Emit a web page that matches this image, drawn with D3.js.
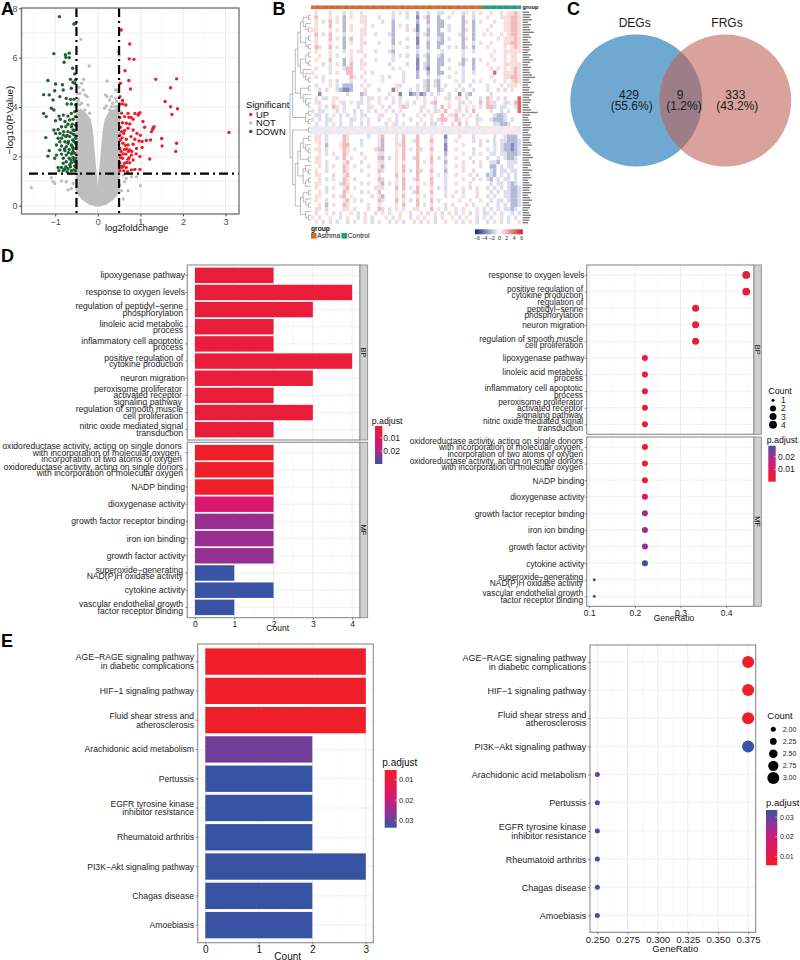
<!DOCTYPE html>
<html lang="en">
<head>
<meta charset="UTF-8">
<title>Asthma DEGs and FRGs</title>
<style>
body { margin: 0; background: #fff; }
svg text { font-family: "Liberation Sans", Arial, sans-serif; }
</style>
</head>
<body>
<script src="https://d3js.org/d3.v7.min.js"></script>
<script>
// ---- panel A: volcano
var downPoints = [[-0.9,7.66],[-0.56,7.36],[-0.52,7.38],[-1.03,6.16],[-0.76,6.12],[-0.67,6.18],[-0.75,6.01],[-0.67,6.0],[-0.79,5.81],[-0.59,5.57],[-0.54,5.34],[-0.64,5.12],[-0.52,5.09],[-0.58,5.0],[-0.54,4.96],[-1.17,5.07],[-0.99,4.93],[-0.83,4.9],[-0.81,4.69],[-0.62,4.76],
[-1.27,4.5],[-1.14,4.49],[-1.01,4.66],[-0.89,4.42],[-1.05,4.28],[-0.74,4.35],[-0.64,4.31],[-0.56,4.31],[-0.72,4.12],[-0.62,4.12],[-0.52,4.08],[-1.09,3.95],[-1.03,3.88],[-1.27,3.74],[-1.21,3.61],[-0.91,3.63],[-0.81,3.67],[-0.7,3.63],[-0.62,3.74],[-0.54,3.81],[-0.52,3.61],[-0.99,3.44],[-0.88,3.5],[-0.77,3.41],[-0.66,3.47],[-0.58,3.5],
[-1.03,3.07],[-0.93,3.09],[-0.85,3.2],[-0.75,3.2],[-0.62,3.2],[-0.52,3.27],[-0.99,2.93],[-0.89,2.93],[-0.81,2.86],[-0.7,3.0],[-0.58,3.07],[-1.22,2.76],[-0.93,2.73],[-0.85,2.73],[-0.75,2.8],[-0.66,2.8],[-0.54,2.86],[-0.89,2.59],[-0.77,2.59],[-0.7,2.53],[-0.59,2.66],[-0.52,2.73],[-0.97,2.46],[-0.85,2.42],[-0.74,2.39],[-0.62,2.46],[-0.52,2.53],
[-1.14,2.23],[-0.89,2.26],[-0.77,2.23],[-0.67,2.28],[-0.58,2.32],[-0.52,2.32],[-1.17,2.01],[-0.97,2.05],[-0.85,2.09],[-0.74,2.05],[-0.62,2.09],[-0.54,2.12],[-1.01,1.92],[-0.81,1.92],[-0.67,1.92],[-0.58,1.96],[-0.52,1.92],[-0.81,1.72],[-0.74,1.78],[-0.62,1.74],[-0.54,1.78],[-0.93,1.55],[-0.85,1.55],[-0.75,1.58],[-0.64,1.58],[-0.54,1.61],[-0.91,1.42],[-0.81,1.42],[-0.72,1.38],[-0.62,1.42],[-0.56,1.45],[-0.52,1.42],
[-0.53,1.6],[-0.58,2.2],[-0.6,2.4],[-0.56,2.6],[-0.6,2.15],[-0.63,1.85],[-0.56,1.85],[-0.69,2.15],[-0.69,2.6],[-0.57,2.9],[-0.63,2.95],[-0.72,2.85],[-0.78,2.3],[-0.66,1.66],[-0.7,1.5],[-0.78,1.48],[-0.6,3.3],[-0.55,3.05],[-0.7,3.3],[-0.8,3.0]];
var upPoints = [[0.55,7.12],[0.75,6.55],[0.74,5.95],[0.85,5.93],[0.64,5.47],[0.73,5.07],[1.36,5.12],[1.85,5.14],[1.71,4.78],[0.77,4.73],[0.53,4.96],[1.58,4.22],[1.71,4.01],[1.87,3.93],[1.74,3.7],[3.08,2.97],
[0.52,4.42],[0.58,4.26],[0.66,4.08],[0.52,4.12],[0.59,4.12],[0.71,3.74],[0.87,3.74],[0.99,3.77],[0.95,3.67],[0.52,3.57],[0.63,3.61],[0.73,3.58],[0.83,3.5],[1.06,3.41],[1.1,3.18],[0.67,3.34],[0.58,3.36],[0.75,3.31],[0.53,3.18],[0.71,3.14],[0.83,3.07],[1.3,3.16],[1.26,3.0],[0.92,2.93],[0.61,2.93],[0.52,2.86],[0.67,2.69],[0.87,2.69],[0.97,2.62],[1.14,2.64],[1.24,2.66],[1.5,2.72],[1.51,2.42],[1.85,2.53],[1.83,2.2],[1.04,2.36],[1.22,1.89],
[0.53,2.66],[0.59,2.53],[0.71,2.46],[0.83,2.49],[0.91,2.32],[0.52,2.32],[0.63,2.28],[0.75,2.26],[0.53,2.05],[0.66,2.09],[0.79,2.05],[0.99,1.99],[0.58,1.92],[0.71,1.88],[0.83,1.85],[0.52,1.74],[0.63,1.72],[0.75,1.74],[0.56,1.55],[0.67,1.55],[0.79,1.45],[0.87,1.47],[0.99,1.47],[0.52,1.42],[0.61,1.42],[0.7,1.38],
[0.55,2.2],[0.6,2.1],[0.55,1.6],[0.68,1.75],[0.57,2.75],[0.65,2.45],[0.72,2.2],[0.56,3.0],[0.63,3.05],[0.78,2.8],[0.68,2.3],[0.8,2.2],[0.9,2.1],[0.6,1.6],[0.74,1.95],[0.53,1.95],[1.04,2.6],[1.0,2.85],[1.29,3.1],[1.32,3.2],[0.56,3.75],[0.95,3.72],[0.78,3.58]];
var notPoints = [[-0.4,6.74],[-0.2,5.66],[0.48,6.24],[0.5,6.1],[-0.33,5.12],[-0.38,4.96],[-0.44,4.8],[-0.48,4.55],[-0.3,4.49],[-0.25,4.42],[-0.48,4.22],[0.22,5.05],[0.42,4.69],[0.48,4.62],[0.18,4.49],[0.32,4.42],[0.2,4.04],[0.32,4.01],[0.44,4.22],[0.45,4.01],
[-0.42,4.55],[-0.34,4.69],[-0.38,4.15],[-0.23,4.08],[-0.3,3.88],[-0.19,3.75],[0.16,3.95],[0.28,3.88],[0.4,4.01],[0.28,4.28],[0.22,4.42],[0.45,4.69],[0.42,4.35],[-0.42,4.1],[-0.45,4.3],[0.35,4.15],[0.47,3.95],
[-1.56,0.73],[-1.09,1.13],[-1.05,0.97],[-1.01,0.9],[-0.85,1.0],[-0.7,0.64],[-0.62,0.7],[-0.74,0.97],[-0.58,0.9],[0.6,0.27],[0.56,0.61],[0.71,0.61],[1.0,0.81],[0.91,1.17],[0.63,0.97],[0.79,1.17],[0.67,1.1],[0.6,1.24],[0.48,0.64],[0.52,0.84]];
// outline of the solid grey mass where the NOT points overplot
var notMassOutline = [[-0.5,3.85],[-0.4,3.9],[-0.3,3.75],[-0.18,3.5],[-0.13,3.0],[-0.08,2.0],[-0.03,1.05],[0,0.42],[0.03,1.05],[0.08,2.0],[0.13,3.0],[0.18,3.5],[0.28,3.8],[0.4,3.9],[0.5,3.85],[0.5,0.6],[0.45,0.45],[0.35,0.25],[0.2,0.08],[0.05,0],[-0.05,0],[-0.2,0.08],[-0.35,0.25],[-0.45,0.45],[-0.5,0.6]];
var volcanoCutX = [-0.5, 0.5];
var volcanoCutY = 1.3;
var volcanoLegend = ["UP", "NOT", "DOWN"];

// ---- panel B: heatmap rows read as coarse levels, one letter per cell
var heatLevels = {D:-3.2, B:-1.9, b:-0.9, l:-0.6, ".":0, p:0.6, r:0.9, R:1.8, S:4};
var heatRows = [
".r...r...b .r..r..... ...b.r.b.. B..b..bb.. r..br.b.r. .r..r.rrRr",
".R...r.r.B .r..rr...b ...b...b.. D.rB..B..b ...B..b... r...rrrRRr",
".r.b.R.r.B ....rr.... b..B...... B..B..BB.. ...Br.B.r. ..r..rrRRr",
".r...R...B .r...r.r.. ...B.r.b.. D..b..BB.b ...B..B... .r...rrRRr",
"rr...r.r.B .r..rr.... ...B...b.r D..B..B..b ...Br.B... r....rrRRr",
".R.b.R...b ....rr..b. ..bB...... B.rB..BB.. ..rB..B..r .r..r.rRRr",
".r...R.r.B .R..r..... ...B...b.. D..b..bB.b ...Br.B... ...r.rrrRr",
".r...r...B .r..rr...r ...B.r.... D..B..BB.. ...B..b.r. .r...rrRRr",
".Rb..R.r.B ....r..... ...b...b.. B..B..B..b .r.Br.B... r....r.rRr",
".r...r...b .r.rr...b. ..bB...... b..b...b.. ...b..b... ..r..rrrrr",
"..r..r.b.. .r...r.... ...b.r.b.. B.rB..bB.. ...b...... .r...r.rr.",
".r...R...B .r..r...r. ...b...... D..B..BB.b ...Br.B.r. ..r..r.rr.",
"...b.r.r.B .R..rr.... ..b....b.. D.bB..BB.. ..bB..B... r....rrrrr",
".r...b...b RR..r..... ...b.r.... D.bD..B..b ...b..B... .r.r.r.rRr",
"r....r.r.. RR...r.b.. ......b... B..B..BB.. .r.b..b... ..S..rrrRr",
".r.b...... .Rr.r..... r.b...b... B..b..b..b ...b...... .r...rrRRr",
"...r.r.b.. .r...r.... r.....b... ..bB.bB... .r.b..b.r. ..r..r.rRr",
".r...r.b.B BB..r.r... ....rb.... b.bB.bB.b ...b..b... .r...r.rrr",
"..b.b..bBD DB...r...b ...Dr...b. b.rB..Bb.. .r.b..b... b..b.b.r..",
"..D....... b...Bb.... ..b..D..DB bDB.b.b..b ..D.bB.... .b........",
".r.bb.rr.. ....b.br.r .b.r.b.... r.r..r..rb .rr.b...b. Rr.r.b...S",
".rb...r.rb .r.bb.r..r ...b.r.r.b ..r.bR...r ..rb.r..R. Rrb..bb.RS",
"..r.b.Rr.b ...b..br.. r.b..rRb.. .rr..b.R.r ..b.r.r.b. RRb.bb..rS",
"b.bb...b.r ..b.b.r.b. .r.b.r.... .b.r.br.R. .rr.b.R... .r..b.b..S",
".bb.b.r.b. b.r.bb...r b...b.b... r.b.r..R.r rR.b.r.b.. ..bBBb....",
"b.b.bb..r. .bb.r.b..b ..r.b...b. .r..r.bRR. .Rr.r..br. .bBBBb.b..",
".b..b.r.b. .b..b.r... .b.rb.r... b.r.bb.r.. r.R.b..r.. ..bbBBb...",
"lllpllplll pllplllpll llplllpllp lllpllplll pllplllpll pppplpppll",
"llplllplll lplllpllpl llpllplllp llplllplll lplllpllpl ppplppplpl",
".rr.b....R r.....b..r R...r.R... R...r...D. ..r...b... ..b..bBBB.",
".rr.b....R r...b....r B...r.R..b R...R...B. .r....b.r. b.b.bbBBBb",
"..r.B...rR R...b....r B...rrR... R...r...D. ...r....b. ..b.bBBDBb",
".rr.b....R r.r.....bR B...r.R.r. Rb..R...D. .r....b... b.b.bBBDBb",
"..r.b.r..R r...b....r b...r.R... R...r...B. ...r..b.r. .bb.bbBBBb",
".rr....b.R .r...r...R B.b.r.R..b R...R.b.b. .r...r.... b..b.bBBb.",
".rr.b....r R...b....r b...r.r... R.r.R...B. ...r..b.r. .bbB..bbb.",
"..r.b.r..R r.r...b..r B...r.R... R...r...b. .r.r....b. .BB.b.bb..",
".r..b....R r...b....R b...r.R.b. Rb..R...B. ...r..b... .bB.bb.bb.",
".rr...b..r R.....r..r ....R.r... R...r.r.b. .r...r.b.. BbB.b.b.b.",
"..r.b.r..R r.b......R b...r.R..r R...R...b. ...r..b.r. bB.b.bb.b.",
".rr.....bR r...r.b..r B.b.r.R... r.r.R...b. .r...r.... .b.bb.bBb.",
".r..b.r..r R.r.....br b...R.R.r. R...r.b.b. ...r.b.r.. b.b.b.bBBb",
"..r.b....R r...b.r..R ....r.r..b R...R...r. .r.b...r.. .b.b.bbBBb",
".rr...b.rR .r.....b.r B...r.R... r.r.r...b. r..r...b.. b.b..bbBBb",
".r..b....r R.r.b....R b...R.r.b. R...R.b... ..r..r..r. .b.bb.bBBb",
"..r.B.r..R r.....r..r ....r.R... R.b.r...b. r...r.b... b..b.b.BBb",
".rr.b....r r.b...b..R b.r.r.r..r r...R.r.b. .r.r...r.b .b.b.bbBb.",
".b..r.b.r. .r.b.r..b. r.b..r..b. .r.b.r.b.r .b.r.b.r.b b.r.b..b.b",
"r.b..r..b. r..b.r.b.. .r.b.r..b. r.r..b.r.. r.b.r..b.r .b..r.b.b.",
".r.b.r.b.. b.r..r.b.r ..b.r.b..r .b.r.b..r. .r.b.r.b.. b.r.b.b..r"
];
var heatGroups = ["Asthma", "Control"];
var heatGroupColumns = [49, 11];
var heatScaleTicks = [-6, -4, -2, 0, 2, 4, 6];
// row dendrogram, 1 is a leaf
var t1 = [[[1,1],[1,[1,1]]],[[1,1],[1,1]]], t2 = [[[1,1],[1,1]],[1,[1,[1,1]]]], t3 = [[1,1],[1,[1,[1,1]]]];
var tM = [[1,1],[1,1]], tB = [1,1];
var u1 = [[[1,1],[1,[1,1]]],[1,1]], u2 = [[1,[1,1]],[[1,1],1]], u3 = [[[1,1],[1,[1,1]]],[1,[1,1]]];
var rowTree = [[[[t1,t2],t3],tM],[tB,[[u1,u2],u3]]];
// gene names on the right are too small to read in the reference, only their lengths are kept
var geneLabelLengths = [7,9,8,10,6,9,7,8,12,7,9,6,8,10,7,8,6,9,7,11,8,6,9,7,8,10,13,7,9,6,8,7,12,10,7,9,8,6,7,9,16,8,6,7,9,8,10,7,6,9,8,7,9,10,6,8,7,9,11,7,8,9,6,10,7,8,9,6,7,10,8,7,9,6,8,10,7,9,8,6,7,9,8,7,6];

// ---- panel C: venn
var vennSets = ["DEGs", "FRGs"];
var vennOnly = [429, 333];
var vennOnlyPct = ["(55.6%)", "(43.2%)"];
var vennShared = 9;
var vennSharedPct = "(1.2%)";

// ---- panel D left: bars
var barBpTerms = ["lipoxygenase pathway","response to oxygen levels","regulation of peptidyl\u2212serine\nphosphorylation","linoleic acid metabolic\nprocess","inflammatory cell apoptotic\nprocess","positive regulation of\ncytokine production","neuron migration","peroxisome proliferator\nactivated receptor\nsignaling pathway","regulation of smooth muscle\ncell proliferation","nitric oxide mediated signal\ntransduction"];
var barBpCount = [2,4,3,2,2,4,3,2,3,2];
var barBpPadj = [0.0045,0.0045,0.0045,0.0045,0.0045,0.0045,0.0045,0.0045,0.0045,0.0045];
var barMfTerms = ["oxidoreductase activity, acting on single donors\nwith incorporation of molecular oxygen,\nincorporation of two atoms of oxygen","oxidoreductase activity, acting on single donors\nwith incorporation of molecular oxygen","NADP binding","dioxygenase activity","growth factor receptor binding","iron ion binding","growth factor activity","superoxide\u2212generating\nNAD(P)H oxidase activity","cytokine activity","vascular endothelial growth\nfactor receptor binding"];
var barMfCount = [2,2,2,2,2,2,2,1,2,1];
var barMfPadj = [0.0015,0.0015,0.002,0.014,0.021,0.021,0.0215,0.0297,0.0297,0.0297];

// ---- panel D right: dots
var dotBpTerms = ["response to oxygen levels","positive regulation of\ncytokine production","regulation of\npeptidyl\u2212serine\nphosphorylation","neuron migration","regulation of smooth muscle\ncell proliferation","lipoxygenase pathway","linoleic acid metabolic\nprocess","inflammatory cell apoptotic\nprocess","peroxisome proliferator\nactivated receptor\nsignaling pathway","nitric oxide mediated signal\ntransduction"];
var dotBpRatio = [0.444,0.444,0.333,0.333,0.333,0.222,0.222,0.222,0.222,0.222];
var dotBpCount = [4,4,3,3,3,2,2,2,2,2];
var dotBpPadj = [0.0045,0.0045,0.0045,0.0045,0.0045,0.0045,0.0045,0.0045,0.0045,0.0045];
var dotMfTerms = ["oxidoreductase activity, acting on single donors\nwith incorporation of molecular oxygen,\nincorporation of two atoms of oxygen","oxidoreductase activity, acting on single donors\nwith incorporation of molecular oxygen","NADP binding","dioxygenase activity","growth factor receptor binding","iron ion binding","growth factor activity","cytokine activity","superoxide\u2212generating\nNAD(P)H oxidase activity","vascular endothelial growth\nfactor receptor binding"];
var dotMfRatio = [0.222,0.222,0.222,0.222,0.222,0.222,0.222,0.222,0.111,0.111];
var dotMfCount = [2,2,2,2,2,2,2,2,1,1];
var dotMfPadj = [0.0015,0.0015,0.002,0.014,0.021,0.021,0.0215,0.0297,0.0297,0.0297];
var countKeyD = [1,2,3,4];

// ---- panel E
var keggBarTerms = ["AGE\u2212RAGE signaling pathway\nin diabetic complications","HIF\u22121 signaling pathway","Fluid shear stress and\natherosclerosis","Arachidonic acid metabolism","Pertussis","EGFR tyrosine kinase\ninhibitor resistance","Rheumatoid arthritis","PI3K\u2212Akt signaling pathway","Chagas disease","Amoebiasis"];
var keggBarCount = [3,3,3,2,2,2,2,3,2,2];
var keggBarPadj = [0.0056,0.0056,0.0056,0.0285,0.0334,0.0334,0.0334,0.0334,0.0334,0.0334];
var keggDotTerms = ["AGE\u2212RAGE signaling pathway\nin diabetic complications","HIF\u22121 signaling pathway","Fluid shear stress and\natherosclerosis","PI3K\u2212Akt signaling pathway","Arachidonic acid metabolism","Pertussis","EGFR tyrosine kinase\ninhibitor resistance","Rheumatoid arthritis","Chagas disease","Amoebiasis"];
var keggDotRatio = [0.375,0.375,0.375,0.375,0.25,0.25,0.25,0.25,0.25,0.25];
var keggDotCount = [3,3,3,3,2,2,2,2,2,2];
var keggDotPadj = [0.0056,0.0056,0.0056,0.0334,0.0285,0.0334,0.0334,0.0334,0.0334,0.0334];
var countKeyE = [2,2.25,2.5,2.75,3];

var grey = "#bebebe", green = "#1f5f30";
var frameColour = "#8c8c8c", gridMajor = "#ececec", gridMinor = "#f5f5f5", labelColour = "#1c1c1c";

var svg = d3.select("body").append("svg").attr("width", 800).attr("height", 960);
var defs = svg.append("defs");

// p.adjust colour ramp, goes through magenta and purple like the picture
var ramp = d3.scaleLinear().domain([0, 0.45, 0.7, 1]).range(["#ee1f27", "#d9176f", "#9a2f92", "#3953a4"]);
function padjColour(lo, hi) {
    return function(p) { return ramp((p - lo) / (hi - lo)); };
}

function panelLetter(t, x, y) {
    svg.append("text").attr("x", x).attr("y", y).attr("font-size", 18).attr("font-weight", "bold").attr("fill", "#000").text(t);
}

function vGrid(g, x, majors, minors, y0, y1) {
    g.selectAll(null).data(minors).join("line").attr("x1", x).attr("x2", x).attr("y1", y0).attr("y2", y1).attr("stroke", gridMinor).attr("stroke-width", 0.6);
    g.selectAll(null).data(majors).join("line").attr("x1", x).attr("x2", x).attr("y1", y0).attr("y2", y1).attr("stroke", gridMajor).attr("stroke-width", 1);
}
function hGrid(g, y, majors, x0, x1) {
    g.selectAll(null).data(majors).join("line").attr("y1", y).attr("y2", y).attr("x1", x0).attr("x2", x1).attr("stroke", gridMajor).attr("stroke-width", 0.8);
}

function frame(g, x0, y0, x1, y1) {
    g.append("rect").attr("x", x0).attr("y", y0).attr("width", x1 - x0).attr("height", y1 - y0).attr("fill", "none").attr("stroke", frameColour).attr("stroke-width", 1.1);
}

function strip(g, x0, x1, y0, y1, t) {
    g.append("rect").attr("x", x0).attr("y", y0).attr("width", x1 - x0).attr("height", y1 - y0).attr("fill", "#d0d0d0").attr("stroke", "#808080").attr("stroke-width", 0.8);
    g.append("text").attr("transform", "translate(" + (x0 + x1) / 2 + "," + (y0 + y1) / 2 + ") rotate(90)")
        .attr("text-anchor", "middle").attr("dy", "0.35em").attr("font-size", 7.5).attr("fill", "#111").text(t);
}

// left axis with wrapped category labels
function termAxis(g, scale, x, opt) {
    var ax = g.append("g").attr("transform", "translate(" + x + ",0)").call(d3.axisLeft(scale).tickSize(2));
    ax.select(".domain").remove();
    ax.selectAll("line").attr("stroke", "#444").attr("stroke-width", 0.6);
    ax.selectAll("text").each(function(d) {
        var lines = d.split("\n");
        var t = d3.select(this).text(null).attr("font-size", opt.font).attr("fill", labelColour).attr("dy", null);
        lines.forEach(function(line, i) {
            t.append("tspan")
                .attr("x", lines.length == 1 ? opt.dx1 : lines.length == 2 ? opt.dx2 : opt.dx3)
                .attr("dy", i == 0 ? ((1 - lines.length) / 2 * opt.lead + 0.35 * opt.font) : opt.lead)
                .text(line);
        });
    });
}

function bottomAxis(g, scale, y, values, fmt, font) {
    var ax = g.append("g").attr("transform", "translate(0," + y + ")")
        .call(d3.axisBottom(scale).tickValues(values).tickFormat(fmt).tickSize(2).tickPadding(1.5));
    ax.select(".domain").remove();
    ax.selectAll("line").attr("stroke", "#444").attr("stroke-width", 0.6);
    ax.selectAll("text").attr("font-size", font).attr("fill", "#222");
}

function axisTitle(x, y, t, font) {
    svg.append("text").attr("x", x).attr("y", y).attr("dy", "0.35em").attr("text-anchor", "middle").attr("font-size", font).attr("fill", "#111").text(t);
}

function barPanel(o) {
    var g = svg.append("g");
    var y = d3.scaleBand().domain(o.terms).range([o.top, o.bottom]).paddingInner(0.1).paddingOuter(0.15);
    vGrid(g, o.x, o.majors, o.minors, o.top, o.bottom);
    hGrid(g, function(d) { return y(d) + y.bandwidth() / 2; }, o.terms, o.left, o.right);
    g.selectAll("rect.bar").data(o.terms).join("rect").attr("class", "bar")
        .attr("x", o.x(0)).attr("y", function(d) { return y(d); })
        .attr("width", function(d, i) { return o.x(o.counts[i]) - o.x(0); })
        .attr("height", y.bandwidth())
        .attr("fill", function(d, i) { return o.colour(o.padj[i]); });
    frame(g, o.left, o.top, o.right, o.bottom);
    termAxis(g, y, o.left, o.label);
}

function dotPanel(o) {
    var g = svg.append("g");
    var y = d3.scalePoint().domain(o.terms).range([o.top, o.bottom]).padding(0.6);
    vGrid(g, o.x, o.majors, o.minors, o.top, o.bottom);
    hGrid(g, y, o.terms, o.left, o.right);
    g.selectAll("circle").data(o.terms).join("circle")
        .attr("cx", function(d, i) { return o.x(o.ratio[i]); })
        .attr("cy", function(d) { return y(d); })
        .attr("r", function(d, i) { return o.size(o.counts[i]); })
        .attr("fill", function(d, i) { return o.colour(o.padj[i]); });
    frame(g, o.left, o.top, o.right, o.bottom);
    termAxis(g, y, o.left, o.label);
}

// colour bar; o.domain is [value at y0, value at y1]
function padjLegend(id, o) {
    var pos = d3.scaleLinear().domain(o.domain).range([o.y0, o.y1]);
    var grad = defs.append("linearGradient").attr("id", id).attr("x1", 0).attr("x2", 0).attr("y1", 0).attr("y2", 1);
    d3.range(0, 1.001, 0.1).forEach(function(f) {
        var p = o.domain[0] + f * (o.domain[1] - o.domain[0]);
        grad.append("stop").attr("offset", f).attr("stop-color", o.colour(p));
    });
    svg.append("text").attr("x", o.titleX).attr("y", o.titleY).attr("dy", "0.35em").attr("font-size", o.titleFont).attr("fill", "#111").text("p.adjust");
    svg.append("rect").attr("x", o.x0).attr("y", o.y0).attr("width", o.x1 - o.x0).attr("height", o.y1 - o.y0).attr("fill", "url(#" + id + ")");
    var g = svg.append("g");
    g.selectAll("line").data(o.ticks).join("line").attr("x1", o.x1 - 2).attr("x2", o.x1).attr("y1", pos).attr("y2", pos).attr("stroke", "#fff").attr("stroke-width", 0.5);
    g.selectAll("text").data(o.ticks).join("text").attr("x", o.x1 + o.gap).attr("y", pos).attr("dy", "0.35em")
        .attr("font-size", o.font).attr("fill", "#222").text(function(d) { return d3.format(".2f")(d); });
}

function countLegend(o) {
    svg.append("text").attr("x", o.titleX).attr("y", o.titleY).attr("dy", "0.35em").attr("font-size", o.titleFont).attr("fill", "#111").text("Count");
    var y = d3.scalePoint().domain(o.values).range([o.y0, o.y1]);
    svg.append("g").selectAll("circle").data(o.values).join("circle").attr("cx", o.x).attr("cy", y).attr("r", o.size).attr("fill", "#000");
    svg.append("g").selectAll("text").data(o.values).join("text").attr("x", o.labelX).attr("y", y).attr("dy", "0.35em")
        .attr("font-size", o.font).attr("fill", "#222").text(o.fmt);
}

// ---------- A ----------
(function() {
    var x = d3.scaleLinear().domain([-1.79, 3.315]).range([21.5, 239]);
    var y = d3.scaleLinear().domain([-0.336, 8.01]).range([214, 8]);
    var g = svg.append("g");
    vGrid(g, x, [-1, 0, 1, 2, 3], [-1.5, -0.5, 0.5, 1.5, 2.5], 8, 214);
    hGrid(g, y, [0, 2, 4, 6, 8], 21.5, 239);
    hGrid(g, y, [1, 3, 5, 7], 21.5, 239);

    var mass = d3.line().x(function(d) { return x(d[0]); }).y(function(d) { return y(d[1]); });
    g.append("path").attr("d", mass(notMassOutline) + "Z").attr("fill", grey).attr("stroke", grey).attr("stroke-width", 1.5);

    function scatter(data, colour) {
        g.append("g").selectAll("circle").data(data).join("circle")
            .attr("cx", function(d) { return x(d[0]); }).attr("cy", function(d) { return y(d[1]); })
            .attr("r", 1.7).attr("fill", colour);
    }
    scatter(notPoints, grey);
    scatter(downPoints, green);
    scatter(upPoints, "#e8202c");

    g.selectAll("line.cut").data(volcanoCutX).join("line").attr("class", "cut")
        .attr("x1", x).attr("x2", x).attr("y1", 8).attr("y2", 214)
        .attr("stroke", "#000").attr("stroke-width", 2.2).attr("stroke-dasharray", "9,4,2,4");
    g.append("line").attr("x1", 29).attr("x2", 239).attr("y1", y(volcanoCutY)).attr("y2", y(volcanoCutY))
        .attr("stroke", "#000").attr("stroke-width", 2.2).attr("stroke-dasharray", "9,4,2,4");

    g.append("rect").attr("x", 21.5).attr("y", 8).attr("width", 217.5).attr("height", 206).attr("fill", "none").attr("stroke", "#7a7a7a").attr("stroke-width", 1.4);

    var xa = g.append("g").attr("transform", "translate(0,214)").call(d3.axisBottom(x).tickValues([-1, 0, 1, 2, 3]).tickFormat(d3.format("d")).tickSize(2.5).tickPadding(2));
    var ya = g.append("g").attr("transform", "translate(21.5,0)").call(d3.axisLeft(y).tickValues([0, 2, 4, 6, 8]).tickSize(2.5).tickPadding(1.5));
    [xa, ya].forEach(function(a) {
        a.select(".domain").remove();
        a.selectAll("line").attr("stroke", "#4d4d4d");
        a.selectAll("text").attr("font-size", 9).attr("fill", "#4d4d4d");
    });
    axisTitle(136.7, 227.5, "log2foldchange", 9.4);
    svg.append("text").attr("transform", "translate(9.7,120) rotate(-90)").attr("text-anchor", "middle").attr("dy", "0.35em").attr("font-size", 9.8).attr("fill", "#111").text("\u2212log10(P.Value)");

    svg.append("text").attr("x", 246).attr("y", 104.5).attr("dy", "0.35em").attr("font-size", 9.4).attr("fill", "#111").text("Significant");
    var ky = d3.scalePoint().domain(volcanoLegend).range([114.5, 131.5]);
    var kc = d3.scaleOrdinal().domain(volcanoLegend).range(["#e8202c", grey, green]);
    svg.append("g").selectAll("circle").data(volcanoLegend).join("circle").attr("cx", 250.7).attr("cy", ky).attr("r", 1.7).attr("fill", kc);
    svg.append("g").selectAll("text").data(volcanoLegend).join("text").attr("x", 256).attr("y", ky).attr("dy", "0.35em").attr("font-size", 9.4).attr("fill", "#111").text(function(d) { return d; });
})();

// ---------- B ----------
(function() {
    var cols = d3.range(heatRows[0].replace(/ /g, "").length);
    var x = d3.scaleBand().domain(cols).range([311, 521]);
    var y = d3.scaleBand().domain(d3.range(heatRows.length)).range([11, 224]);
    var heatColour = d3.scaleLinear().domain([-6, 0, 6]).range(["#1a237e", "#ffffff", "#d7191c"]);
    var groupColour = d3.scaleOrdinal().domain(heatGroups).range(["#d9692b", "#1f9f7c"]);
    var g = svg.append("g");

    // the reference is soft, cells get a small blur inside the heatmap box
    defs.append("filter").attr("id", "heatSoft").append("feGaussianBlur").attr("stdDeviation", 0.7);
    defs.append("clipPath").attr("id", "heatBox").append("rect").attr("x", 311).attr("y", 11).attr("width", 210).attr("height", 213);
    var cellGroup = g.append("g").attr("clip-path", "url(#heatBox)").append("g").attr("filter", "url(#heatSoft)");

    heatRows.forEach(function(row, r) {
        var cells = row.replace(/ /g, "").split("").map(function(c) { return heatLevels[c]; });
        cellGroup.append("g").selectAll("rect").data(cells).join("rect")
            .attr("x", function(d, i) { return x(i); }).attr("y", y(r))
            .attr("width", x.bandwidth() + 0.2).attr("height", y.bandwidth() + 0.2)
            .attr("fill", heatColour);
    });

    // group bar on top
    var groupCells = [];
    heatGroups.forEach(function(name, i) {
        d3.range(heatGroupColumns[i]).forEach(function() { groupCells.push(name); });
    });
    g.append("g").selectAll("rect").data(groupCells).join("rect")
        .attr("x", function(d, i) { return x(i); }).attr("y", 5.5)
        .attr("width", x.bandwidth() + 0.2).attr("height", 3.6).attr("fill", groupColour);
    svg.append("text").attr("x", 522.5).attr("y", 7.5).attr("dy", "0.35em").attr("font-size", 5.6).attr("font-weight", "bold").attr("fill", "#111").text("group");

    // row dendrogram
    var root = d3.hierarchy(rowTree, function(d) { return Array.isArray(d) ? d : null; });
    d3.cluster().size([y.step() * (heatRows.length - 1), 21]).separation(function() { return 1; })(root);
    var tree = g.append("g").attr("transform", "translate(290," + (11 + y.step() / 2) + ")");
    tree.selectAll("path").data(root.links()).join("path")
        .attr("d", function(l) { return "M" + l.source.y + "," + l.source.x + "V" + l.target.x + "H" + l.target.y; })
        .attr("fill", "none").attr("stroke", "#666").attr("stroke-width", 0.45);

    // illegible gene labels: ink of each name only
    var ly = d3.scaleBand().domain(d3.range(geneLabelLengths.length)).range([11, 224]);
    g.append("g").selectAll("rect").data(geneLabelLengths).join("rect")
        .attr("x", 522.5).attr("y", function(d, i) { return ly(i) + 0.6; })
        .attr("width", function(d) { return d * 0.95; }).attr("height", 1.3)
        .attr("fill", "#777");

    // group key
    svg.append("text").attr("x", 311).attr("y", 229).attr("dy", "0.35em").attr("font-size", 6.7).attr("font-weight", "bold").attr("fill", "#111").text("group");
    var kx = d3.scaleOrdinal().domain(heatGroups).range([311, 341.5]);
    svg.append("g").selectAll("rect").data(heatGroups).join("rect").attr("x", kx).attr("y", 233).attr("width", 5.6).attr("height", 5.6).attr("fill", groupColour);
    svg.append("g").selectAll("text").data(heatGroups).join("text").attr("x", function(d) { return kx(d) + 6.2; }).attr("y", 236).attr("dy", "0.35em").attr("font-size", 6.8).attr("fill", "#111").text(function(d) { return d; });

    // colour key
    var sx = d3.scaleLinear().domain([-6, 6]).range([477, 521.7]);
    var grad = defs.append("linearGradient").attr("id", "heatKey");
    grad.append("stop").attr("offset", 0).attr("stop-color", heatColour(-6));
    grad.append("stop").attr("offset", 0.5).attr("stop-color", heatColour(0));
    grad.append("stop").attr("offset", 1).attr("stop-color", heatColour(6));
    svg.append("rect").attr("x", 475).attr("y", 229.3).attr("width", 47.7).attr("height", 5).attr("fill", "url(#heatKey)");
    svg.append("g").selectAll("text").data(heatScaleTicks).join("text").attr("x", sx).attr("y", 238.5).attr("dy", "0.35em")
        .attr("text-anchor", "middle").attr("font-size", 5.2).attr("fill", "#222").text(d3.format("d"));
})();

// ---------- C ----------
(function() {
    var cx = d3.scalePoint().domain(vennSets).range([636.3, 725.2]);
    var r = 66;
    var cy = 100.5;
    var g = svg.append("g");
    var fills = d3.scaleOrdinal().domain(vennSets).range(["#6fa9d2", "#d9a29c"]);
    g.selectAll("circle").data(vennSets).join("circle").attr("cx", cx).attr("cy", cy).attr("r", r).attr("fill", fills);
    defs.append("clipPath").attr("id", "vennLeft").append("circle").attr("cx", cx(vennSets[0])).attr("cy", cy).attr("r", r);
    g.append("circle").attr("cx", cx(vennSets[1])).attr("cy", cy).attr("r", r).attr("fill", "#9d7e88").attr("clip-path", "url(#vennLeft)");

    var labels = [
        [vennSets[0], 634.7, 22.3], [vennSets[1], 727, 22.3],
        [vennOnly[0], 629, 94.3], [vennOnlyPct[0], 631.7, 105.7],
        [vennShared, 680, 94.3], [vennSharedPct, 684, 105.7],
        [vennOnly[1], 735.3, 94.3], [vennOnlyPct[1], 737.3, 105.7]
    ];
    g.selectAll("text").data(labels).join("text").attr("x", function(d) { return d[1]; }).attr("y", function(d) { return d[2]; })
        .attr("dy", "0.35em").attr("text-anchor", "middle").attr("font-size", 12).attr("fill", "#1a1a1a").text(function(d) { return d[0]; });
})();

// ---------- D left ----------
var dBarX = d3.scaleLinear().domain([-0.195, 4.2]).range([187.3, 360]);
var dBarColour = padjColour(0.0012, 0.0297);
var dLabel = {font: 8.6, lead: 6.5, dx1: -2.3, dx2: -4.2, dx3: -5.5};
barPanel({terms: barBpTerms, counts: barBpCount, padj: barBpPadj, x: dBarX, colour: dBarColour, left: 187.3, right: 360, top: 265, bottom: 440, majors: [0,1,2,3,4], minors: [0.5,1.5,2.5,3.5], label: dLabel});
barPanel({terms: barMfTerms, counts: barMfCount, padj: barMfPadj, x: dBarX, colour: dBarColour, left: 187.3, right: 360, top: 442.3, bottom: 617.7, majors: [0,1,2,3,4], minors: [0.5,1.5,2.5,3.5], label: dLabel});
strip(svg.append("g"), 360, 367.7, 265, 440, "BP");
strip(svg.append("g"), 360, 367.7, 442.3, 617.7, "MF");
bottomAxis(svg.append("g"), dBarX, 617.7, [0,1,2,3,4], d3.format("d"), 8.5);
axisTitle(277.7, 627.6, "Count", 8.5);
padjLegend("dBarKey", {colour: dBarColour, domain: [0.0012, 0.0297], y0: 426, y1: 464, x0: 375, x1: 382.3, ticks: [0.01, 0.02], gap: 1, font: 8.6, titleX: 371.7, titleY: 420.5, titleFont: 8.8});

// ---------- D right ----------
var dDotX = d3.scaleLinear().domain([0.0944, 0.461]).range([586.7, 754]);
var dDotSize = d3.scaleLinear().domain([1, 2, 3, 4]).range([1.5, 3, 3.5, 3.9]);
var dDotLabel = {font: 8.3, lead: 6.5, dx1: -2.3, dx2: -3.7, dx3: -3.7};
dotPanel({terms: dotBpTerms, ratio: dotBpRatio, counts: dotBpCount, padj: dotBpPadj, x: dDotX, size: dDotSize, colour: dBarColour, left: 586.7, right: 754, top: 265, bottom: 434.3, majors: [0.1,0.2,0.3,0.4], minors: [0.15,0.25,0.35,0.45], label: dDotLabel});
dotPanel({terms: dotMfTerms, ratio: dotMfRatio, counts: dotMfCount, padj: dotMfPadj, x: dDotX, size: dDotSize, colour: dBarColour, left: 586.7, right: 754, top: 437, bottom: 606.3, majors: [0.1,0.2,0.3,0.4], minors: [0.15,0.25,0.35,0.45], label: dDotLabel});
strip(svg.append("g"), 754, 761.3, 265, 434.3, "BP");
strip(svg.append("g"), 754, 761.3, 437, 606.3, "MF");
bottomAxis(svg.append("g"), dDotX, 606.3, [0.1,0.2,0.3,0.4], d3.format(".1f"), 8.5);
axisTitle(674, 618.3, "GeneRatio", 8.5);
countLegend({titleX: 768.3, titleY: 391, titleFont: 8.8, values: countKeyD, x: 773, y0: 400.3, y1: 424.7, labelX: 781, size: dDotSize, font: 8.5, fmt: d3.format("d")});
padjLegend("dDotKey", {colour: dBarColour, domain: [0.0288, 0.0002], y0: 445.7, y1: 481.7, x0: 768.3, x1: 775.7, ticks: [0.02, 0.01], gap: 2.3, font: 8.6, titleX: 766.7, titleY: 440, titleFont: 8.8});

// ---------- E left ----------
var eBarX = d3.scaleLinear().domain([-0.142, 3.14]).range([197.7, 373.3]);
var eBarColour = padjColour(0.0053, 0.0334);
barPanel({terms: keggBarTerms, counts: keggBarCount, padj: keggBarPadj, x: eBarX, colour: eBarColour, left: 197.7, right: 373.3, top: 644, bottom: 942.7, majors: [0,1,2,3], minors: [0.5,1.5,2.5], label: {font: 8.6, lead: 8.7, dx1: -3.7, dx2: -3.7, dx3: -3.7}});
bottomAxis(svg.append("g"), eBarX, 942.7, [0,1,2,3], d3.format("d"), 10);
axisTitle(287.7, 956, "Count", 10);
padjLegend("eBarKey", {colour: eBarColour, domain: [0.0053, 0.0334], y0: 770, y1: 827.7, x0: 384.7, x1: 396.7, ticks: [0.01, 0.02, 0.03], gap: 2.3, font: 7.4, titleX: 382.3, titleY: 762, titleFont: 10});

// ---------- E right ----------
var eDotX = d3.scaleLinear().domain([0.2439, 0.3813]).range([590, 755.7]);
var eDotSize = d3.scaleLinear().domain([2, 3]).range([2.5, 6]);
dotPanel({terms: keggDotTerms, ratio: keggDotRatio, counts: keggDotCount, padj: keggDotPadj, x: eDotX, size: eDotSize, colour: eBarColour, left: 590, right: 755.7, top: 645, bottom: 932.3, majors: [0.25,0.275,0.3,0.325,0.35,0.375], minors: [0.2625,0.2875,0.3125,0.3375,0.3625], label: {font: 9, lead: 8.7, dx1: -3.7, dx2: -3.7, dx3: -3.7}});
bottomAxis(svg.append("g"), eDotX, 932.3, [0.25,0.275,0.3,0.325,0.35,0.375], d3.format(".3f"), 9.6);
axisTitle(675.3, 948.3, "GeneRatio", 9.6);
countLegend({titleX: 767.3, titleY: 715.7, titleFont: 9.5, values: countKeyE, x: 773.3, y0: 729.3, y1: 778, labelX: 782.7, size: eDotSize, font: 7, fmt: d3.format(".2f")});
padjLegend("eDotKey", {colour: eBarColour, domain: [0.0336, 0.0054], y0: 810, y1: 865.3, x0: 766, x1: 777.3, ticks: [0.03, 0.02, 0.01], gap: 2.7, font: 7, titleX: 766, titleY: 802.3, titleFont: 9.5});

panelLetter("A", 1, 15);
panelLetter("B", 272.5, 14.5);
panelLetter("C", 567, 14.5);
panelLetter("D", 1, 262);
panelLetter("E", 1, 647);
</script>
</body>
</html>
